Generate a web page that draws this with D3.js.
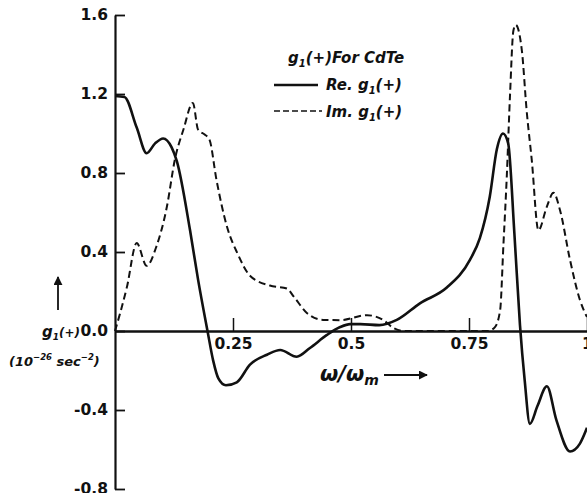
<!DOCTYPE html>
<html>
<head>
<meta charset="utf-8">
<script src="https://cdn.jsdelivr.net/npm/d3@7"></script>
<style>
  body { margin: 0; background: #fff; }
  svg { display: block; }
  .tick text { font-family: "DejaVu Sans", sans-serif; font-weight: bold; font-size: 15.5px; fill: #111; }
  .lbl { font-family: "DejaVu Sans", sans-serif; font-style: italic; font-weight: bold; fill: #111; }
</style>
</head>
<body>
<svg id="chart"></svg>
<script>
// values (omega / omega_m, g1(+) in 1e-26 sec^-2)
const reOmega = [0, 0.02, 0.046, 0.067, 0.085, 0.102, 0.12, 0.131, 0.159, 0.176, 0.196, 0.208, 0.219, 0.235,
  0.258, 0.286, 0.322, 0.35, 0.385, 0.413, 0.449, 0.477, 0.498, 0.52, 0.56, 0.597, 0.646, 0.703, 0.752,
  0.773, 0.794, 0.809, 0.822, 0.833, 0.846, 0.858, 0.868, 0.879, 0.895, 0.915, 0.935, 0.964, 0.985, 1.0];
const reValues = [1.19, 1.185, 1.03, 0.90, 0.95, 0.975, 0.93, 0.86, 0.51, 0.26, 0.0, -0.15, -0.24, -0.275,
  -0.26, -0.17, -0.12, -0.096, -0.13, -0.086, -0.02, 0.02, 0.035, 0.035, 0.03, 0.056, 0.14, 0.22, 0.36,
  0.47, 0.68, 0.92, 1.0, 0.95, 0.5, 0.03, -0.25, -0.47, -0.38, -0.28, -0.45, -0.61, -0.57, -0.49];

const imOmega = [0, 0.012, 0.025, 0.046, 0.067, 0.088, 0.11, 0.127, 0.145, 0.165, 0.176, 0.19, 0.2, 0.215,
  0.237, 0.26, 0.286, 0.328, 0.364, 0.38, 0.407, 0.441, 0.477, 0.534, 0.568, 0.59, 0.61, 0.79, 0.805,
  0.816, 0.823, 0.83, 0.837, 0.844, 0.849, 0.862, 0.872, 0.883, 0.897, 0.915, 0.929, 0.943, 0.964, 0.985, 1.0];
const imValues = [0, 0.1, 0.22, 0.445, 0.33, 0.43, 0.63, 0.87, 1.02, 1.155, 1.02, 0.995, 0.97, 0.765,
  0.53, 0.39, 0.28, 0.23, 0.215, 0.17, 0.09, 0.056, 0.055, 0.08, 0.056, 0.015, 0, 0, 0.02,
  0.106, 0.44, 0.78, 1.2, 1.52, 1.55, 1.42, 1.12, 0.865, 0.51, 0.63, 0.70, 0.61, 0.36, 0.157, 0.07];

const xTicks = [0.25, 0.5, 0.75, 1];
const yTicks = [-0.8, -0.4, 0, 0.4, 0.8, 1.2, 1.6];

const width = 587, height = 493;
const svg = d3.select('#chart').attr('width', width).attr('height', height);

const x = d3.scaleLinear().domain([0, 1]).range([115, 587]);
const y = d3.scaleLinear().domain([-0.8, 1.6]).range([489, 15]);

// y axis, ticks pointing into the plot
const yAxis = d3.axisLeft(y)
  .tickValues(yTicks)
  .tickSizeInner(-10)
  .tickSizeOuter(0)
  .tickPadding(7)
  .tickFormat(d => d3.format('.1f')(d).replace('−', '-'));
const gy = svg.append('g').attr('transform', `translate(${x(0)},0)`).call(yAxis);
gy.select('.domain').attr('stroke', '#111').attr('stroke-width', 2.2);
gy.selectAll('.tick line').attr('stroke', '#111').attr('stroke-width', 1.8);

// x axis along g = 0, ticks pointing up
const xAxis = d3.axisBottom(x)
  .tickValues(xTicks)
  .tickSizeInner(-13)
  .tickSizeOuter(0)
  .tickPadding(7)
  .tickFormat(d => String(d));
const gx = svg.append('g').attr('transform', `translate(0,${y(0)})`).call(xAxis);
gx.select('.domain').attr('stroke', '#111').attr('stroke-width', 2.6);
gx.selectAll('.tick line').attr('stroke', '#111').attr('stroke-width', 1.5);

// curves
const line = (xs, ys) => d3.line()
  .x((d, i) => x(xs[i]))
  .y(d => y(d))
  .curve(d3.curveMonotoneX)(ys);

svg.append('path')
  .attr('d', line(imOmega, imValues))
  .attr('fill', 'none')
  .attr('stroke', '#111')
  .attr('stroke-width', 2)
  .attr('stroke-dasharray', '7,4');

svg.append('path')
  .attr('d', line(reOmega, reValues))
  .attr('fill', 'none')
  .attr('stroke', '#111')
  .attr('stroke-width', 2.6);

// legend
const title = svg.append('text').attr('class', 'lbl').attr('x', 288).attr('y', 63).style('font-size', '15px');
title.append('tspan').text('g');
title.append('tspan').attr('dy', 4).style('font-size', '10px').text('1');
title.append('tspan').attr('dy', -4).text('(+)For CdTe');

svg.append('line').attr('x1', 274).attr('x2', 318).attr('y1', 85).attr('y2', 85)
  .attr('stroke', '#111').attr('stroke-width', 2.4);
const re = svg.append('text').attr('class', 'lbl').attr('x', 326).attr('y', 90).style('font-size', '15px');
re.append('tspan').text('Re. g');
re.append('tspan').attr('dy', 4).style('font-size', '10px').text('1');
re.append('tspan').attr('dy', -4).text('(+)');

svg.append('line').attr('x1', 274).attr('x2', 322).attr('y1', 111).attr('y2', 111)
  .attr('stroke', '#111').attr('stroke-width', 1.6).attr('stroke-dasharray', '6,3');
const im = svg.append('text').attr('class', 'lbl').attr('x', 326).attr('y', 117).style('font-size', '15px');
im.append('tspan').text('Im. g');
im.append('tspan').attr('dy', 4).style('font-size', '10px').text('1');
im.append('tspan').attr('dy', -4).text('(+)');

// y axis label
svg.append('defs').append('marker')
  .attr('id', 'arrow').attr('viewBox', '0 0 10 10').attr('refX', 9).attr('refY', 5)
  .attr('markerWidth', 5).attr('markerHeight', 5).attr('orient', 'auto')
  .append('path').attr('d', 'M0,0 L10,5 L0,10 z').attr('fill', '#111');

svg.append('line').attr('x1', 58).attr('x2', 58).attr('y1', 310).attr('y2', 277)
  .attr('stroke', '#111').attr('stroke-width', 1.8).attr('marker-end', 'url(#arrow)');

const yl = svg.append('text').attr('class', 'lbl').attr('x', 80).attr('y', 337)
  .attr('text-anchor', 'end').style('font-size', '15px');
yl.append('tspan').text('g');
yl.append('tspan').attr('dy', 3).style('font-size', '9px').text('1');
yl.append('tspan').attr('dy', -3).style('font-size', '12px').text('(+)');

const units = svg.append('text').attr('class', 'lbl').attr('x', 9).attr('y', 366)
  .style('font-size', '13px');
units.append('tspan').text('(10');
units.append('tspan').attr('dy', -6).style('font-size', '8.5px').text('−26');
units.append('tspan').attr('dy', 6).text(' sec');
units.append('tspan').attr('dy', -6).style('font-size', '8.5px').text('−2');
units.append('tspan').attr('dy', 6).text(')');

// x axis label
const xl = svg.append('text').attr('class', 'lbl').attr('x', 320).attr('y', 381).style('font-size', '21px');
xl.append('tspan').text('ω/ω');
xl.append('tspan').attr('dy', 4).style('font-size', '14px').text('m');
svg.append('line').attr('x1', 384).attr('x2', 427).attr('y1', 375).attr('y2', 375)
  .attr('stroke', '#111').attr('stroke-width', 1.8).attr('marker-end', 'url(#arrow)');
</script>
</body>
</html>
